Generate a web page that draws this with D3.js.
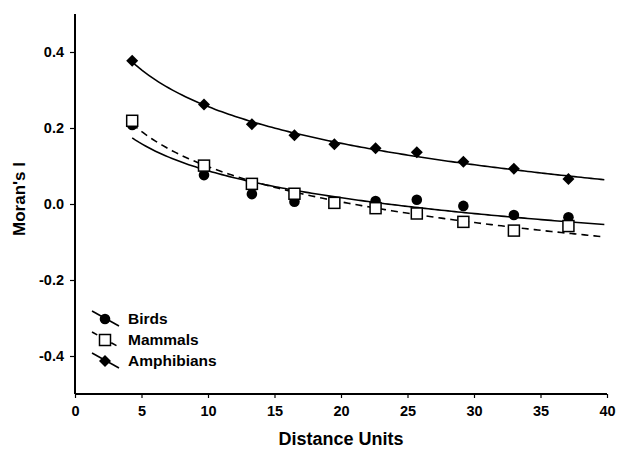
<!DOCTYPE html>
<html>
<head>
<meta charset="utf-8">
<script src="https://cdn.jsdelivr.net/npm/d3@7"></script>
<style>
	body { margin: 0; background: #fff; }
	text { font-family: "Liberation Sans", Arial, sans-serif; font-weight: bold; fill: #000; }
</style>
</head>
<body>
<div id="chart"></div>
<script>
// distances (x) shared by all three series
const distances = [4.3, 9.7, 13.3, 16.5, 19.5, 22.6, 25.7, 29.2, 33.0, 37.1];
const birds = [0.208, 0.076, 0.026, 0.006, 0.003, 0.008, 0.011, -0.005, -0.029, -0.035];
const mammals = [0.219, 0.101, 0.053, 0.027, 0.003, -0.011, -0.025, -0.047, -0.070, -0.058];
const amphibians = [0.377, 0.262, 0.210, 0.181, 0.157, 0.147, 0.136, 0.111, 0.093, 0.066];
const xTicks = [0, 5, 10, 15, 20, 25, 30, 35, 40];
const yTicks = [-0.4, -0.2, 0.0, 0.2, 0.4];

const series = [
	{ name: 'Birds', values: birds, symbol: 'circle', dashed: false },
	{ name: 'Mammals', values: mammals, symbol: 'square', dashed: true },
	{ name: 'Amphibians', values: amphibians, symbol: 'diamond', dashed: false },
];

const width = 618;
const height = 451;
const margin = { top: 14, right: 11, bottom: 57, left: 75 };
const innerW = width - margin.left - margin.right;
const innerH = height - margin.top - margin.bottom;

const svg = d3.select('#chart').append('svg')
	.attr('width', width)
	.attr('height', height);
const chart = svg.append('g')
	.attr('transform', `translate(${margin.left}, ${margin.top})`);

const x = d3.scaleLinear().domain([0, 40]).range([0, innerW]);
const y = d3.scaleLinear().domain([-0.5, 0.5]).range([innerH, 0]);

// logarithmic trend line y = a + b ln(x), least squares on the points
const logFit = (xs, ys) => {
	const lx = xs.map(Math.log);
	const mx = d3.mean(lx);
	const my = d3.mean(ys);
	const b = d3.sum(lx, (v, i) => (v - mx) * (ys[i] - my)) / d3.sum(lx, v => (v - mx) ** 2);
	return { a: my - b * mx, b };
};

const line = d3.line().x(d => x(d[0])).y(d => y(d[1]));

series.forEach((s) => {
	const fit = logFit(distances, s.values);
	const xs = d3.range(distances[0], 40.001, 0.25);
	const pts = xs.map(v => [v, fit.a + fit.b * Math.log(v)]);
	chart.append('path')
		.attr('d', line(pts))
		.attr('fill', 'none')
		.attr('stroke', '#000')
		.attr('stroke-width', 1.6)
		.attr('stroke-dasharray', s.dashed ? '7,5' : null);
});

const drawMarker = (g, symbol, cx, cy) => {
	if (symbol === 'circle') {
		g.append('circle').attr('cx', cx).attr('cy', cy).attr('r', 5.3).attr('fill', '#000');
	} else if (symbol === 'square') {
		g.append('rect').attr('x', cx - 5.5).attr('y', cy - 5.5).attr('width', 11).attr('height', 11)
			.attr('fill', '#fff').attr('stroke', '#000').attr('stroke-width', 1.5);
	} else {
		g.append('path')
			.attr('d', 'M0,-6L6,0L0,6L-6,0Z')
			.attr('transform', `translate(${cx},${cy})`)
			.attr('fill', '#000');
	}
};

// markers: birds, then mammals on top, amphibians
series.forEach((s) => {
	const g = chart.append('g');
	s.values.forEach((v, i) => drawMarker(g, s.symbol, x(distances[i]), y(v)));
});

// axes
const xAxis = d3.axisBottom(x).tickValues(xTicks).tickFormat(d3.format('d')).tickSize(4).tickPadding(8);
const yAxis = d3.axisLeft(y).tickValues(yTicks)
	.tickFormat(d => d3.format('.1f')(d).replace('\u2212', '-'))
	.tickSize(5).tickPadding(6);

const gx = chart.append('g').attr('transform', `translate(0, ${innerH})`).call(xAxis);
const gy = chart.append('g').call(yAxis);
[gx, gy].forEach((g) => {
	g.select('.domain').attr('stroke-width', 2);
	g.selectAll('.tick line').attr('stroke-width', 1.2);
	g.selectAll('.tick text').style('font-size', '14.5px');
});
gx.select('.domain').attr('d', `M0,0H${innerW}`);
gy.select('.domain').attr('d', `M0,0V${innerH}`);

// axis titles
svg.append('text')
	.attr('x', margin.left + innerW / 2)
	.attr('y', 445)
	.attr('text-anchor', 'middle')
	.style('font-size', '18px')
	.text('Distance Units');
svg.append('text')
	.attr('transform', `translate(25, ${margin.top + innerH / 2 - 5}) rotate(-90)`)
	.attr('text-anchor', 'middle')
	.style('font-size', '17px')
	.text("Moran's I");

// legend
const legend = svg.append('g').attr('transform', 'translate(105, 319)');
series.forEach((s, i) => {
	const row = legend.append('g').attr('transform', `translate(0, ${i * 21})`);
	row.append('line')
		.attr('x1', -13).attr('y1', -8).attr('x2', 14).attr('y2', 7)
		.attr('stroke', '#000').attr('stroke-width', 1.6)
		.attr('stroke-dasharray', s.dashed ? '6,16' : null);
	drawMarker(row, s.symbol, 0, 0);
	row.append('text')
		.attr('x', 23)
		.attr('y', 5)
		.style('font-size', '15.5px')
		.text(s.name);
});
</script>
</body>
</html>
